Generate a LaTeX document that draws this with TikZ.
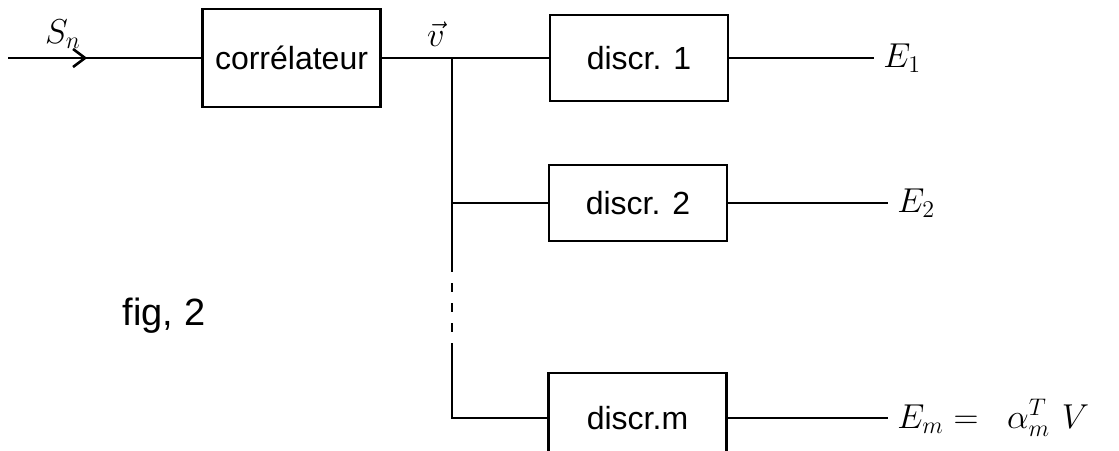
\documentclass[tikz,border=0pt]{standalone}
\usepackage{fontspec}
\setmainfont{Liberation Sans}
\usetikzlibrary{arrows.meta,decorations.markings}
\begin{document}
\begin{tikzpicture}[x=.5pt, y=-.5pt, line width=1.3pt, >={Straight Barb[length=6pt,width=9pt]},
  bloc/.style={draw, minimum width=89pt, font=\fontsize{16}{19}\selectfont},
  sortie/.style={anchor=west, inner sep=4pt, font=\fontsize{17}{20}\selectfont}]
\useasboundingbox (0,0) rectangle (1119,450);
% blocs
\node[bloc, minimum height=49pt] (correl) at (291.5,58) {corrélateur};
\node[bloc, minimum height=43pt] (disc1) at (639,58) {discr. 1};
\node[bloc, minimum height=38pt] (disc2) at (638,203) {discr. 2};
\node[bloc, minimum height=45pt] (discm) at (637.5,418) {discr.m};
% entree
\coordinate (entree) at (8,58);
\draw[postaction={decorate}, decoration={markings, mark=at position .41 with {\arrow{>}}}] (entree) -- (correl);
\node[font=\fontsize{17}{20}\selectfont] (sn) at (63,34) {$S_n$};
% vecteur v et ramification
\draw (correl) -- (disc1);
\node[font=\fontsize{18}{21}\selectfont] (vv) at (436,34) {$\vec{v}$};
\coordinate (br) at (452,58);
\coordinate (p1) at (452,272);
\coordinate (p2) at (452,344);
\draw (br) |- (disc2);
\draw (br) -- (p1);
\draw[dash pattern=on 0pt off 5.5pt on 4.5pt off 0pt] (p1) -- (p2);
\draw (p2) |- (discm);
% sorties
\node[sortie] (e1) at (874,58) {$E_1$};
\node[sortie] (e2) at (888,203) {$E_2$};
\node[sortie] (em) at (888,418) {$E_m = \;\;\alpha_m^{T}\,\, V$};
\draw (disc1) -- (e1);
\draw (disc2) -- (e2);
\draw (discm) -- (em);
\node[font=\fontsize{19}{22}\selectfont] (fig) at (164,316) {fig, 2};
\end{tikzpicture}
\end{document}
